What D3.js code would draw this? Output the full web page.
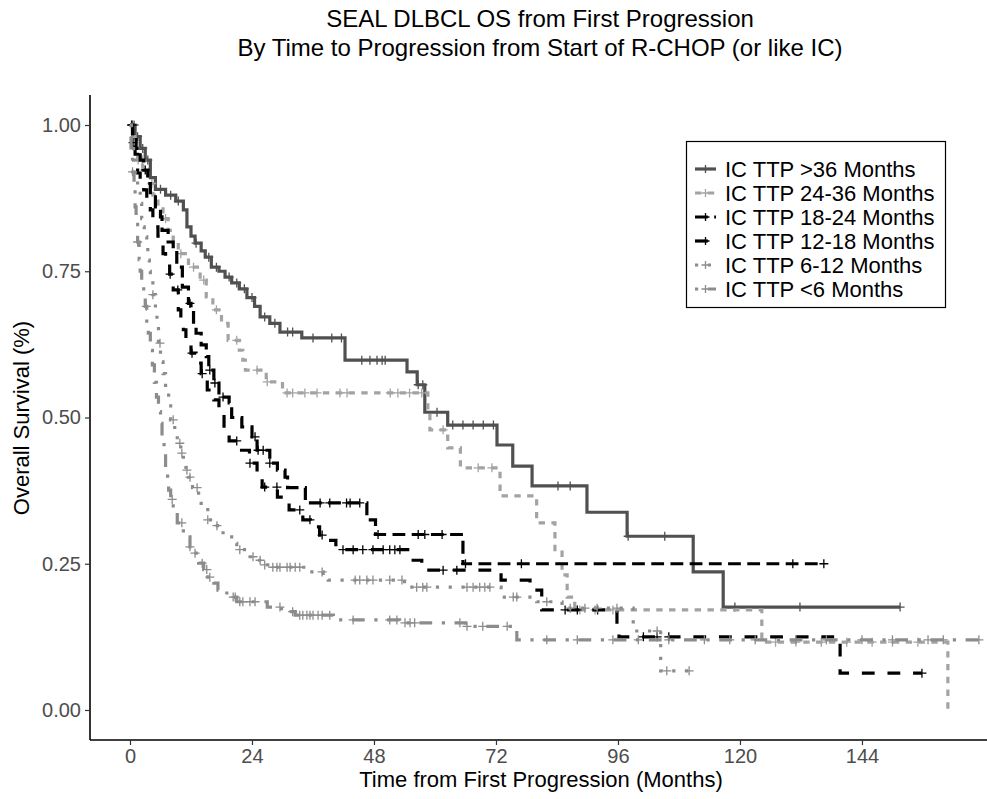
<!DOCTYPE html>
<html><head><meta charset="utf-8">
<script src="https://cdn.jsdelivr.net/npm/d3@7"></script>
<style>body{margin:0;background:#fff}svg{display:block}text{font-family:"Liberation Sans",Arial,sans-serif}</style>
</head><body>
<svg id="c" width="987" height="799"></svg>
<script>
// ---------- DATA ----------
const titleLines = ["SEAL DLBCL OS from First Progression", "By Time to Progression from Start of R-CHOP (or like IC)"];
const xTicks = [0, 24, 48, 72, 96, 120, 144];
const yTicks = [0, 0.25, 0.5, 0.75, 1.0];
const groups = ["IC TTP >36 Months","IC TTP 24-36 Months","IC TTP 18-24 Months","IC TTP 12-18 Months","IC TTP 6-12 Months","IC TTP <6 Months"];

// step data: [time, survival]
const km36 = [[0,1],[1,0.98],[2,0.96],[3,0.94],[4,0.91],[5,0.89],[7,0.88],[9,0.87],[10.5,0.855],[11.2,0.826],[12,0.81],[12.8,0.798],[14,0.785],[14.8,0.774],[16,0.757],[17.5,0.75],[18.7,0.74],[20,0.73],[21.5,0.72],[23,0.705],[24.5,0.69],[25.6,0.672],[27.5,0.661],[29.5,0.646],[33.8,0.636],[42.3,0.598],[54.5,0.578],[56.5,0.556],[58,0.509],[62.5,0.487],[72.2,0.453],[75.3,0.417],[79.1,0.383],[89.9,0.338],[97.8,0.297],[110.8,0.236],[116.7,0.176]];
const end36 = 151.5;
const cens36 = [0.3,0.8,1.5,2.5,3.5,6,8,9.5,13,15.5,17,19.5,21,22.5,24,26.5,28.5,31,32,36,39.7,41.6,45.6,47.2,48.6,49.6,50.2,56.7,57.6,60.4,63.5,65.5,67.5,69.5,71.5,84.2,86.6,98,105.2,119,131.8,151.5];

const km2436 = [[0,1],[0.5,0.98],[1,0.96],[1.5,0.94],[2.5,0.92],[3.5,0.9],[4.5,0.88],[5.5,0.86],[6.5,0.84],[7.5,0.82],[8.5,0.8],[9.5,0.78],[11.5,0.757],[13.8,0.735],[15,0.706],[16.3,0.684],[18,0.661],[19.3,0.632],[21.5,0.615],[22.2,0.598],[22.7,0.581],[26.8,0.561],[30,0.542],[58.6,0.513],[59,0.479],[62.5,0.448],[65,0.414],[72.8,0.366],[80,0.32],[83.6,0.274],[85,0.231],[86,0.193],[87.5,0.171],[124.3,0.116],[160.9,0]];
const end2436 = 160.9;
const cens2436 = [1.6,2.4,4.3,7,10,12.5,14.5,17,21,25,27,30.9,32,34.4,36.8,41.3,42.7,51.2,52.7,55,57.4,61.6,68.5,71.2,88.5,91.5,95,127,131,136,141,146,150,155];

const km1824 = [[0,1],[0.5,0.98],[1.2,0.96],[2,0.94],[2.7,0.923],[3.5,0.9],[4,0.877],[5,0.86],[6,0.843],[6.3,0.82],[7.5,0.8],[8.5,0.786],[9.2,0.757],[10.3,0.723],[11.5,0.695],[12,0.684],[12.5,0.66],[13,0.644],[14,0.624],[15,0.604],[15.5,0.581],[16.5,0.559],[17.5,0.535],[19.5,0.525],[20,0.5],[22,0.484],[24,0.467],[25,0.444],[27.5,0.422],[29,0.41],[30.5,0.398],[31,0.38],[34.5,0.354],[46.6,0.325],[48.3,0.3],[65.5,0.25]];
const end1824 = 136.5;
const cens1824 = [0.4,3,11.8,15.7,16.7,18.3,24.6,25.2,26.2,27.5,37.4,39.3,42.6,43.3,45.2,48.8,56.7,58,61.4,66,77,130.4,136.5];

const km1218 = [[0,1],[0.5,0.97],[1,0.95],[1.5,0.918],[2,0.9],[2.7,0.889],[3.3,0.87],[4,0.855],[4.5,0.84],[5,0.826],[5.5,0.81],[6,0.798],[6.5,0.78],[7,0.769],[7.8,0.745],[8.5,0.718],[9.5,0.684],[10,0.665],[10.5,0.65],[11,0.627],[12,0.61],[13,0.593],[14,0.575],[14.5,0.564],[15.2,0.547],[16.5,0.53],[17.5,0.508],[18.5,0.479],[19.5,0.46],[21.5,0.444],[23.5,0.422],[25,0.398],[26,0.381],[29,0.364],[31.3,0.342],[34,0.325],[35.5,0.313],[37.3,0.299],[38.5,0.29],[40.5,0.274],[55,0.256],[57.4,0.239],[73,0.222],[78.7,0.205],[81,0.171],[95.8,0.147],[96.2,0.125],[139.7,0.063]];
const end1218 = 155.8;
const cens1218 = [0.6,7.9,9.4,12.2,14.2,21,23.6,26.5,28.9,33.4,35.4,37.8,41.9,43.9,45.8,47.8,49.8,51.1,52.1,53.1,61.6,64.3,85.6,88,92,101,103.7,106,155.8];

const km612 = [[0,1],[0.3,0.97],[0.7,0.94],[1,0.911],[1.5,0.894],[2,0.866],[2.3,0.84],[2.5,0.826],[2.8,0.809],[3.3,0.79],[3.5,0.769],[3.8,0.75],[4,0.735],[4.5,0.71],[5,0.684],[5.3,0.655],[5.6,0.627],[6,0.595],[6.5,0.575],[7,0.547],[7.6,0.52],[8,0.496],[8.8,0.474],[9.3,0.456],[10,0.439],[10.5,0.425],[11,0.41],[11.5,0.398],[12.3,0.38],[13.5,0.364],[14,0.347],[15.3,0.325],[16.5,0.315],[17.2,0.303],[18.7,0.296],[20,0.285],[21,0.274],[23.3,0.262],[25,0.256],[26,0.248],[28,0.244],[35,0.236],[38,0.227],[39,0.222],[54,0.21],[73,0.193],[80,0.185],[85,0.174],[99,0.135],[104.4,0.067]];
const end612 = 110;
const cens612 = [4.5,5.9,8.5,9.8,10.2,11.2,11.8,13.2,15.3,17.1,21.6,24.2,25.6,26.5,28.1,28.9,29.5,30.9,31.5,32.5,33.4,37.8,44.3,45.2,46.6,47.8,51.1,53.5,56.4,57.6,58.4,66.3,67.5,68.8,69.8,70.8,75.4,76.1,82,86.6,89.5,91.9,95.8,103.7,105.6,110];

const km6 = [[0,1],[0.2,0.95],[0.5,0.92],[0.8,0.89],[1,0.86],[1.2,0.83],[1.5,0.8],[1.8,0.77],[2,0.75],[2.3,0.73],[2.7,0.71],[3,0.69],[3.3,0.66],[3.6,0.644],[4,0.615],[4.4,0.59],[4.8,0.56],[5.2,0.535],[5.6,0.51],[6,0.49],[6.3,0.462],[6.7,0.44],[7,0.41],[7.4,0.39],[7.6,0.376],[8,0.36],[8.5,0.342],[9.3,0.32],[10.5,0.296],[11.8,0.279],[12.5,0.268],[13.5,0.251],[14.5,0.24],[15.3,0.227],[16.5,0.217],[17.3,0.205],[18.5,0.2],[20,0.193],[21,0.185],[27,0.176],[29.8,0.168],[32.5,0.162],[40,0.154],[53,0.149],[66,0.143],[76.1,0.12]];
const end6 = 167;
const cens6 = [0.5,1.5,3.2,8.3,10.2,11.8,12.8,14.2,15.1,15.7,20.3,20.7,21.6,22.2,23.6,24.6,29.5,32,33.4,34,34.8,35.4,36,37,37.8,39.3,43.9,51.1,52.5,54.1,55.1,56,64.9,66.3,69.4,74.2,82,88,95,100,106,113,118,123,131,137,144,150,157,160,167];

// ---------- STYLE ----------
const series = [
  {name: groups[0], km: km36, end: end36, cens: cens36, color: "#505050", dash: null},
  {name: groups[1], km: km2436, end: end2436, cens: cens2436, color: "#a3a3a3", dash: [2,2]},
  {name: groups[2], km: km1824, end: end1824, cens: cens1824, color: "#000000", dash: [4,2]},
  {name: groups[3], km: km1218, end: end1218, cens: cens1218, color: "#000000", dash: [4,4]},
  {name: groups[4], km: km612, end: end612, cens: cens612, color: "#8c8c8c", dash: [1,3]},
  {name: groups[5], km: km6, end: end6, cens: cens6, color: "#8c8c8c", dash: [1,3,4,3]}
];
const LW = 3.2;
const dashStr = d => d ? d.map(v => v * LW).join(",") : null;

const svg = d3.select("#c");
const W = 987, H = 799;
const M = {left: 90, right: 0, top: 95, bottom: 59};
const x = d3.scaleLinear().domain([-7.87, 168.6]).range([M.left, W - M.right]);
const y = d3.scaleLinear().domain([-0.0513, 1.0513]).range([H - M.bottom, M.top]);

// title
svg.append("text").attr("x", 540).attr("y", 27).attr("text-anchor", "middle").attr("font-size", 24).attr("fill", "#000").text(titleLines[0]);
svg.append("text").attr("x", 540).attr("y", 56).attr("text-anchor", "middle").attr("font-size", 24).attr("fill", "#000").text(titleLines[1]);

const g = svg.append("g");
svg.append("clipPath").attr("id", "pc").append("rect").attr("x", M.left).attr("y", M.top - 10).attr("width", W - M.left).attr("height", H - M.bottom - M.top + 10);

const line = d3.line().x(d => x(d[0])).y(d => y(d[1])).curve(d3.curveStepAfter);
function survAt(km, t) { let s = 1; for (const [tt, v] of km) { if (tt <= t) s = v; } return s; }

const plot = g.append("g").attr("clip-path", "url(#pc)");
series.forEach(s => {
  const pts = s.km.concat([[s.end, s.km[s.km.length - 1][1]]]);
  plot.append("path").datum(pts).attr("d", line).attr("fill", "none")
    .attr("stroke", s.color).attr("stroke-width", LW).attr("stroke-linecap", "butt")
    .attr("stroke-dasharray", dashStr(s.dash));
  const cs = 4.5;
  plot.append("g").selectAll("path").data(s.cens).join("path")
    .attr("d", t => { const cx = x(t), cy = y(survAt(s.km, t)); return `M${cx - cs},${cy}H${cx + cs}M${cx},${cy - cs}V${cy + cs}`; })
    .attr("stroke", s.color).attr("stroke-width", 1.3).attr("fill", "none");
});

// axes
const xAxis = g.append("g").attr("transform", `translate(0,${H - M.bottom})`)
  .call(d3.axisBottom(x).tickValues(xTicks).tickSize(5).tickPadding(4).tickFormat(d3.format("d")));
const yAxis = g.append("g").attr("transform", `translate(${M.left},0)`)
  .call(d3.axisLeft(y).tickValues(yTicks).tickSize(5).tickPadding(4).tickFormat(d3.format(".2f")));
[xAxis, yAxis].forEach(a => {
  a.select(".domain").attr("stroke", "#000").attr("stroke-width", 1.6);
  a.selectAll(".tick line").attr("stroke", "#333").attr("stroke-width", 1.2);
  a.selectAll(".tick text").attr("fill", "#4d4d4d").attr("font-size", 20).attr("font-family", "Liberation Sans, Arial, sans-serif");
});
yAxis.select(".domain").attr("d", `M0,${M.top}V${H - M.bottom}`);
xAxis.select(".domain").attr("d", `M${M.left},0H${W}`);

// axis titles
svg.append("text").attr("x", 541).attr("y", 787).attr("text-anchor", "middle").attr("font-size", 22).text("Time from First Progression (Months)");
svg.append("text").attr("transform", "translate(29,418) rotate(-90)").attr("text-anchor", "middle").attr("font-size", 22).text("Overall Survival (%)");

// legend
const lg = svg.append("g");
lg.append("rect").attr("x", 686.5).attr("y", 141.5).attr("width", 259).attr("height", 166).attr("fill", "#fff").attr("stroke", "#000").attr("stroke-width", 1.2);
series.forEach((s, i) => {
  const yy = 169 + i * 24;
  lg.append("line").attr("x1", 695).attr("x2", 716).attr("y1", yy).attr("y2", yy)
    .attr("stroke", s.color).attr("stroke-width", LW).attr("stroke-dasharray", dashStr(s.dash));
  lg.append("path").attr("d", `M${705.5 - 4},${yy}H${705.5 + 4}M${705.5},${yy - 4}V${yy + 4}`).attr("stroke", s.color).attr("stroke-width", 1.3);
  lg.append("text").attr("x", 725).attr("y", yy + 8).attr("font-size", 22).text(s.name);
});
</script>
</body></html>
